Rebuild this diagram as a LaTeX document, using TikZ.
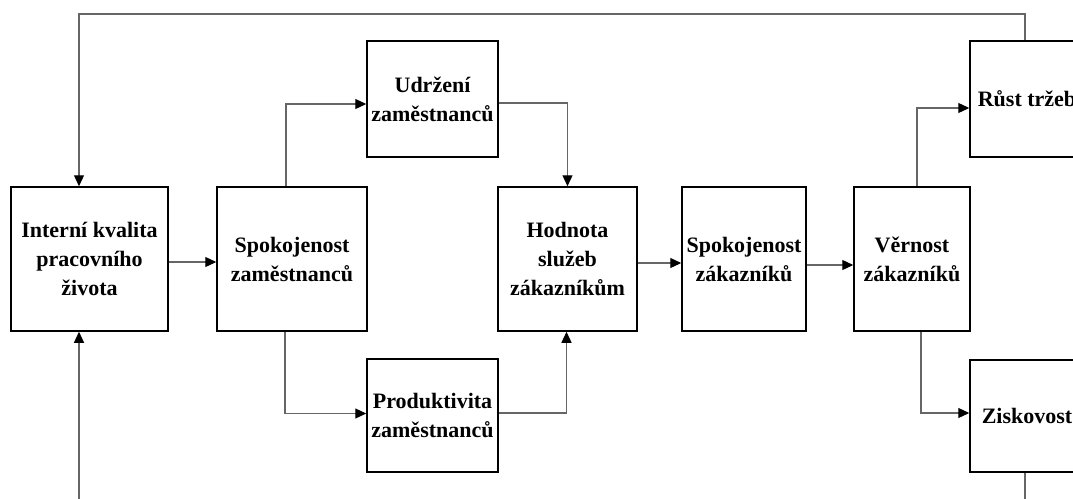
\documentclass[tikz,border=0pt]{standalone}
\usepackage{fontspec}
\setmainfont{Liberation Serif}
\usetikzlibrary{arrows.meta,calc}
\tikzset{
  box/.style={draw=black, line width=1.5pt, fill=white, align=center, inner sep=0pt,
    font=\fontsize{22}{29}\selectfont\bfseries},
  conn/.style={draw=black!60, line width=1.2pt, -{Triangle[length=11pt,width=10pt,fill=black,color=black]}}
}
\begin{document}
\begin{tikzpicture}[x=1pt,y=-1pt]
\useasboundingbox (0,0) rectangle (1073,498);
\clip (0,0) rectangle (1073,498);
% nodes (centre, width, height)
\node[box, minimum width=157pt, minimum height=144pt] (iq) at (89.5,259) {Interní kvalita\\pracovního\\života};
\node[box, minimum width=150pt, minimum height=144pt] (se) at (292,259) {Spokojenost\\zaměstnanců};
\node[box, minimum width=131pt, minimum height=116pt] (ud) at (432.5,99) {Udržení\\zaměstnanců};
\node[box, minimum width=131pt, minimum height=113pt] (pr) at (432.5,415.5) {Produktivita\\zaměstnanců};
\node[box, minimum width=139pt, minimum height=144pt] (ho) at (567.5,259) {Hodnota\\služeb\\zákazníkům};
\node[box, minimum width=124pt, minimum height=144pt] (sz) at (744,259) {Spokojenost\\zákazníků};
\node[box, minimum width=116pt, minimum height=144pt] (ve) at (912,259) {Věrnost\\zákazníků};
\node[box, minimum width=114pt, minimum height=116pt] (rt) at (1027,99) {Růst tržeb};
\node[box, minimum width=114pt, minimum height=112pt] (zi) at (1027,416) {Ziskovost};
% connectors
\draw[conn] ([yshift=-3pt]iq.east) -- ([yshift=-3pt]se.west);
\draw[conn] ([xshift=-6pt]se.north) |- ([yshift=-5pt]ud.west);
\draw[conn] ([xshift=-7pt]se.south) |- ([yshift=2pt]pr.west);
\draw[conn] ([yshift=-4pt]ud.east) -| (ho.north);
\draw[conn] ([yshift=2.5pt]pr.east) -| ([xshift=-1pt]ho.south);
\draw[conn] ([yshift=-4pt]ho.east) -- ([yshift=-4pt]sz.west);
\draw[conn] ([yshift=-6pt]sz.east) -- ([yshift=-6pt]ve.west);
\draw[conn] ([xshift=5pt]ve.north) |- ([yshift=-9pt]rt.west);
\draw[conn] ([xshift=9pt]ve.south) |- ([yshift=3pt]zi.west);
\coordinate (top) at (0,14);
\coordinate (bot) at (0,520);
\coordinate (iqn) at ([xshift=-10.5pt]iq.north);
\coordinate (iqs) at ([xshift=-10.5pt]iq.south);
\draw[conn] ([xshift=-2pt]rt.north) |- (top -| iqn) -- (iqn);
\draw[conn] ([xshift=-2pt]zi.south) |- (bot -| iqs) -- (iqs);
\end{tikzpicture}
\end{document}
